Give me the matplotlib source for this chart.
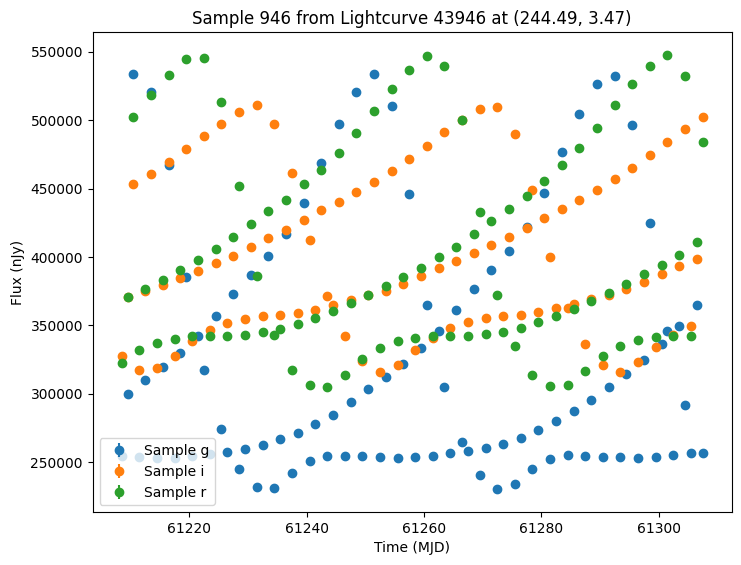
import numpy as np
import matplotlib
matplotlib.use("Agg")
import matplotlib.pyplot as plt

# observation times (MJD), one per day, shared by all bands
mjd = [61208.5, 61209.5, 61210.5, 61211.5, 61212.5, 61213.5, 61214.5, 61215.5, 61216.5, 61217.5,
       61218.5, 61219.5, 61220.5, 61221.5, 61222.5, 61223.5, 61224.5, 61225.5, 61226.5, 61227.5,
       61228.5, 61229.5, 61230.5, 61231.5, 61232.5, 61233.5, 61234.5, 61235.5, 61236.5, 61237.5,
       61238.5, 61239.5, 61240.5, 61241.5, 61242.5, 61243.5, 61244.5, 61245.5, 61246.5, 61247.5,
       61248.5, 61249.5, 61250.5, 61251.5, 61252.5, 61253.5, 61254.5, 61255.5, 61256.5, 61257.5,
       61258.5, 61259.5, 61260.5, 61261.5, 61262.5, 61263.5, 61264.5, 61265.5, 61266.5, 61267.5,
       61268.5, 61269.5, 61270.5, 61271.5, 61272.5, 61273.5, 61274.5, 61275.5, 61276.5, 61277.5,
       61278.5, 61279.5, 61280.5, 61281.5, 61282.5, 61283.5, 61284.5, 61285.5, 61286.5, 61287.5,
       61288.5, 61289.5, 61290.5, 61291.5, 61292.5, 61293.5, 61294.5, 61295.5, 61296.5, 61297.5,
       61298.5, 61299.5, 61300.5, 61301.5, 61302.5, 61303.5, 61304.5, 61305.5, 61306.5, 61307.5]

# flux in nJy
flux_g = [254300, 300100, 533600, 253600, 309800, 520900, 253000, 319700, 467600, 253300,
          329900, 385200, 254300, 342500, 317600, 255700, 356800, 273900, 257200, 373100,
          245000, 259600, 386900, 232000, 262500, 400700, 231000, 266900, 416500, 242100,
          271000, 439700, 250900, 277600, 469100, 254500, 284800, 497200, 254500, 293800,
          520500, 254500, 303200, 533600, 253600, 312500, 510300, 252800, 322100, 446300,
          253600, 333600, 365100, 254500, 345900, 304700, 256700, 361400, 264500, 257900,
          376700, 240700, 260300, 390500, 230300, 263000, 404300, 234100, 267600, 421800,
          244800, 273400, 447000, 252100, 280000, 477100, 255200, 287200, 504700, 254500,
          295700, 526300, 253800, 305200, 532100, 253800, 314700, 496500, 253000, 324800,
          424700, 253800, 336500, 345900, 255200, 349800, 292100, 256500, 364800, 256500]

flux_i = [327900, 370500, 453100, 317600, 375200, 460800, 318500, 379400, 469800, 327900,
          384500, 479200, 338700, 389800, 488500, 346700, 395400, 497600, 351700, 400900,
          506100, 354700, 407000, 511000, 357100, 413600, 497200, 357800, 420100, 461600,
          359000, 426900, 412300, 361400, 434100, 371400, 365100, 440500, 342500, 368700,
          447700, 323800, 372000, 455000, 316300, 375500, 463200, 320700, 380100, 472000,
          331800, 385900, 481400, 340800, 392300, 491400, 348300, 397100, 500000, 352500,
          402700, 508100, 355600, 408500, 509600, 357100, 414700, 489900, 357800, 421300,
          448700, 360000, 428800, 399700, 362900, 435400, 362700, 365800, 441900, 336500,
          369400, 449200, 321200, 372500, 457200, 316300, 376500, 465400, 322900, 381600,
          474700, 334300, 387400, 484100, 343200, 393800, 493600, 349800, 398300, 502300]

flux_r = [322700, 370700, 502500, 332100, 376700, 518300, 337200, 383000, 532800, 340100,
          390500, 544500, 342500, 397800, 545200, 342500, 405600, 513400, 342500, 414300,
          452300, 343000, 424000, 385900, 345200, 433400, 343200, 347400, 441900, 317600,
          351000, 453100, 306700, 355400, 463700, 305200, 360200, 476100, 313900, 366300,
          490700, 325800, 372100, 506900, 333600, 378700, 522700, 338900, 385200, 536500,
          341000, 391700, 546700, 342500, 399700, 539400, 342500, 407700, 500100, 342500,
          417200, 433200, 344000, 426100, 372100, 345200, 435400, 335200, 348300, 444800,
          314100, 352500, 455700, 305400, 356800, 467400, 306700, 362100, 480000, 316800,
          367700, 494500, 328000, 373600, 511000, 335200, 380100, 526300, 339400, 387400,
          539400, 341800, 394500, 547600, 342300, 401400, 532100, 342300, 410700, 484100]

# flux errors are tiny compared to the scatter
flux_err = 800

fig = plt.figure(figsize=(7.41, 5.65), dpi=100)
ax = fig.add_axes([0.1251, 0.0938, 0.8623, 0.849])

ax.errorbar(mjd, flux_g, yerr=flux_err, fmt='o', label='Sample g')
ax.errorbar(mjd, flux_i, yerr=flux_err, fmt='o', label='Sample i')
ax.errorbar(mjd, flux_r, yerr=flux_err, fmt='o', label='Sample r')

ax.set_xlabel("Time (MJD)")
ax.set_ylabel("Flux (nJy)")
ax.set_title("Sample 946 from Lightcurve 43946 at (244.49, 3.47)")
ax.legend(loc='lower left')

fig.savefig("out.png", dpi=100)
